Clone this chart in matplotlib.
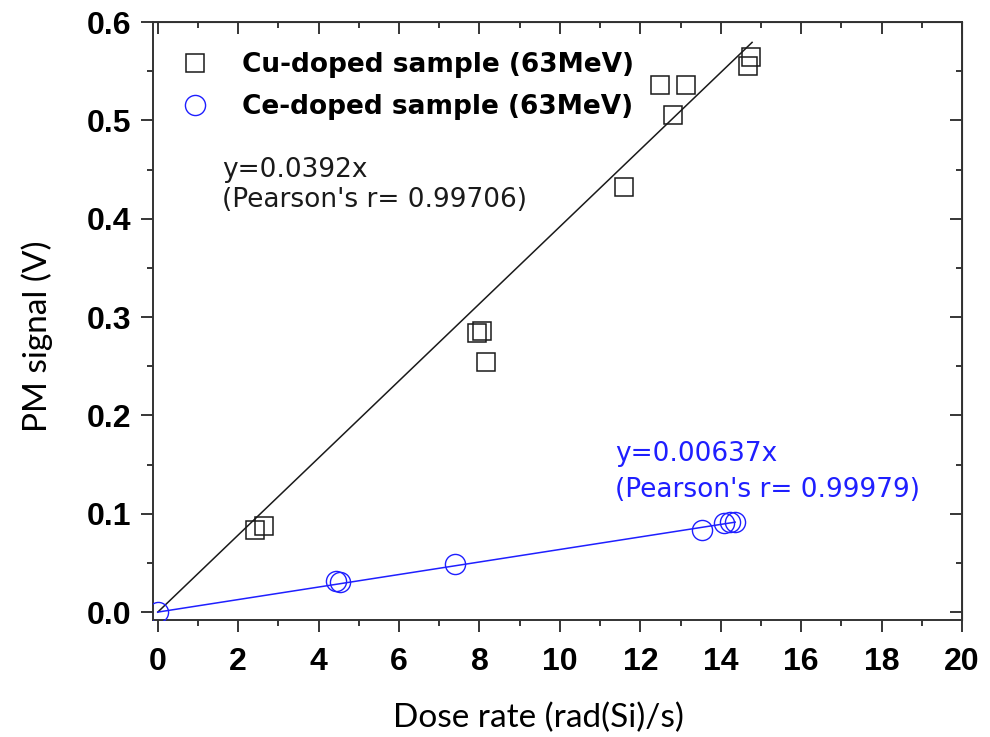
import matplotlib
matplotlib.use("Agg")
import matplotlib.pyplot as plt
import numpy as np

# ── Данные ──────────────────────────────────────────────────────────────
cu_x = [2.43, 2.63, 7.95, 8.07, 8.17, 11.60, 12.50, 13.14, 12.82, 14.68, 14.76]
cu_y = [0.083, 0.0875, 0.284, 0.286, 0.254, 0.432, 0.536, 0.536, 0.506, 0.555, 0.565]
ce_x = [0.0, 4.42, 4.52, 7.38, 13.54, 14.09, 14.24, 14.36]
ce_y = [0.0, 0.0315, 0.0305, 0.0488, 0.0834, 0.0905, 0.0916, 0.0916]
cu_slope = 0.0392
ce_slope = 0.00637
cu_fit_end = 14.78
ce_fit_end = 14.36

x_major = np.arange(0, 21, 2)
x_minor = np.arange(1, 20, 2)
y_major = np.round(np.arange(0, 0.61, 0.1), 1)
y_minor = np.arange(0.05, 0.6, 0.1)

BLUE = "#1f1fff"
BLACK = "#1a1a1a"
plt.rcParams["font.family"] = ["DejaVu Sans"]

fig = plt.figure(figsize=(9.9, 7.37), dpi=100)
ax = fig.add_axes([0.1545, 0.1588, 0.8172, 0.8112])

# Линии аппроксимации
fx = np.array([0, cu_fit_end])
ax.plot(fx, cu_slope * fx, color=BLACK, lw=1.1, zorder=2)
fx2 = np.array([0, ce_fit_end])
ax.plot(fx2, ce_slope * fx2, color=BLUE, lw=1.1, zorder=2)

ax.plot(cu_x, cu_y, ls="none", marker="s", ms=12.5, mfc="none",
        mec=BLACK, mew=1.1, label="Cu-doped sample (63MeV)", zorder=3)
ax.plot(ce_x, ce_y, ls="none", marker="o", ms=14.5, mfc="none",
        mec=BLUE, mew=1.0, label="Ce-doped sample (63MeV)", zorder=3)

ax.set_xlim(-0.12, 20)
ax.set_ylim(-0.008, 0.6)
ax.set_xticks(x_major)
ax.set_xticks(x_minor, minor=True)
ax.set_yticks(y_major)
ax.set_yticks(y_minor, minor=True)
ax.yaxis.set_major_formatter(matplotlib.ticker.FormatStrFormatter("%.1f"))

ax.tick_params(which="major", direction="out", length=8.5, width=1.1)
ax.tick_params(which="minor", direction="out", length=4.3, width=1.1)
ax.tick_params(axis="x", which="major", pad=11)
ax.tick_params(axis="y", which="major", pad=7)
for lab in ax.get_xticklabels() + ax.get_yticklabels():
    lab.set_fontweight("bold")
    lab.set_fontsize(23)
    lab.set_family("Liberation Sans")
for sp in ax.spines.values():
    sp.set_linewidth(1.4)
    sp.set_color("#333333")

# Верхняя и правая оси — засечки внутрь
top = ax.secondary_xaxis("top")
top.set_xticks(x_major)
top.set_xticks(x_minor, minor=True)
top.tick_params(which="major", direction="in", length=8.5, width=1.1, labeltop=False)
top.tick_params(which="minor", direction="in", length=4.3, width=1.1)
right = ax.secondary_yaxis("right")
right.set_yticks(y_major)
right.set_yticks(y_minor, minor=True)
right.tick_params(which="major", direction="in", length=8.5, width=1.1, labelright=False)
right.tick_params(which="minor", direction="in", length=4.3, width=1.1)

ax.set_xlabel("Dose rate (rad(Si)/s)", fontsize=24, family="Lato", va="baseline")
ax.xaxis.set_label_coords(0.477, -0.179)
ax.set_ylabel("PM signal (V)", fontsize=24, family="Lato")
ax.yaxis.set_label_coords(-0.123, 0.475)

leg = ax.legend(loc="upper left", bbox_to_anchor=(0.0124, 0.967), frameon=False,
                prop={"size": 19, "weight": "bold"}, handlelength=1.6,
                handletextpad=1.0, labelspacing=0.6, borderaxespad=0)

# Уравнения аппроксимации
ax.text(0.0853, (620 - 177) / 598, "y=0.0392x", transform=ax.transAxes,
        fontsize=19, color=BLACK, va="baseline")
ax.text(0.0853, (620 - 207) / 598, "(Pearson's r= 0.99706)", transform=ax.transAxes,
        fontsize=19, color=BLACK, va="baseline")
ax.text(0.571, (620 - 461) / 598, "y=0.00637x", transform=ax.transAxes,
        fontsize=19, color=BLUE, va="baseline")
ax.text(0.571, (620 - 497) / 598, "(Pearson's r= 0.99979)", transform=ax.transAxes,
        fontsize=19, color=BLUE, va="baseline")

fig.savefig("out.png", dpi=100)
